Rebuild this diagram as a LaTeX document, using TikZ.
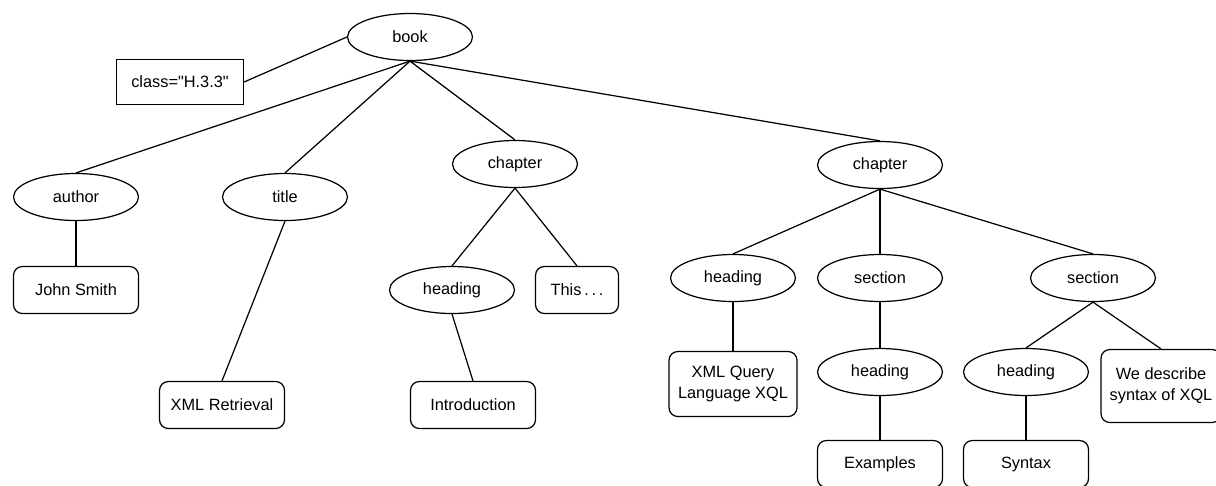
\documentclass[tikz,border=0pt]{standalone}
\usepackage{fontspec}
\setmainfont{Liberation Sans}
\usetikzlibrary{shapes.geometric}

\begin{document}
\begin{tikzpicture}[x=0.02cm,y=-0.02cm,line width=.7pt]
    \tikzstyle{elem}=[draw,ellipse,minimum width=2.5cm,minimum height=0.94cm,inner sep=0pt,font=\fontsize{9.3}{12}\selectfont];
    \tikzstyle{txt}=[draw,rounded corners=5pt,minimum width=2.5cm,minimum height=0.94cm,inner sep=0pt,align=center,font=\fontsize{9.3}{12}\selectfont];
    \tikzstyle{attr}=[draw,minimum width=2.54cm,minimum height=0.9cm,inner sep=0pt,font=\fontsize{9.3}{12}\selectfont];
    \useasboundingbox (0,0) rectangle (1216,485);
    % root and attribute
    \node[elem] (book) at (410,37) {book};
    \node[attr] (cls) at (180,82) {class=\textquotedbl H.3.3\textquotedbl};
    \draw (cls.east)--(book.west);
    % first level
    \node[elem] (author) at (76,197) {author};
    \node[elem] (title) at (285,197) {title};
    \node[elem] (chapA) at (515,164) {chapter};
    \node[elem] (chapB) at (880,165) {chapter};
    \foreach \c in {author,title,chapA,chapB}
        \draw (book.south)--(\c.north);
    % author, title
    \node[txt] (jsmith) at (76,290) {John Smith};
    \node[txt] (xmlret) at (222,405) {XML Retrieval};
    \draw (author.south)--(jsmith.north);
    \draw (title.south)--(xmlret.north);
    % first chapter
    \node[elem] (headA) at (452,290) {heading};
    \node[txt,minimum width=1.66cm] (this) at (577,290) {This\,.\,.\,.};
    \node[txt] (intro) at (473,405) {Introduction};
    \draw (chapA.south)--(headA.north);
    \draw (chapA.south)--(this.north);
    \draw (headA.south)--(intro.north);
    % second chapter
    \node[elem] (headB) at (733,278) {heading};
    \node[elem] (secA) at (880,278) {section};
    \node[elem] (secB) at (1093,278) {section};
    \foreach \c in {headB,secA,secB}
        \draw (chapB.south)--(\c.north);
    \node[txt,minimum width=2.56cm,minimum height=1.3cm] (xql) at (733,384) {XML Query\\Language XQL};
    \draw (headB.south)--(xql.north);
    \node[elem] (headC) at (880,372) {heading};
    \node[txt] (examples) at (880,464) {Examples};
    \draw (secA.south)--(headC.north);
    \draw (headC.south)--(examples.north);
    \node[elem] (headD) at (1026,372) {heading};
    \node[txt] (syntax) at (1026,464) {Syntax};
    \node[txt,minimum width=2.4cm,minimum height=1.46cm] (descr) at (1161,386) {We describe\\syntax of XQL};
    \draw (secB.south)--(headD.north);
    \draw (secB.south)--(descr.north);
    \draw (headD.south)--(syntax.north);
\end{tikzpicture}
\end{document}
